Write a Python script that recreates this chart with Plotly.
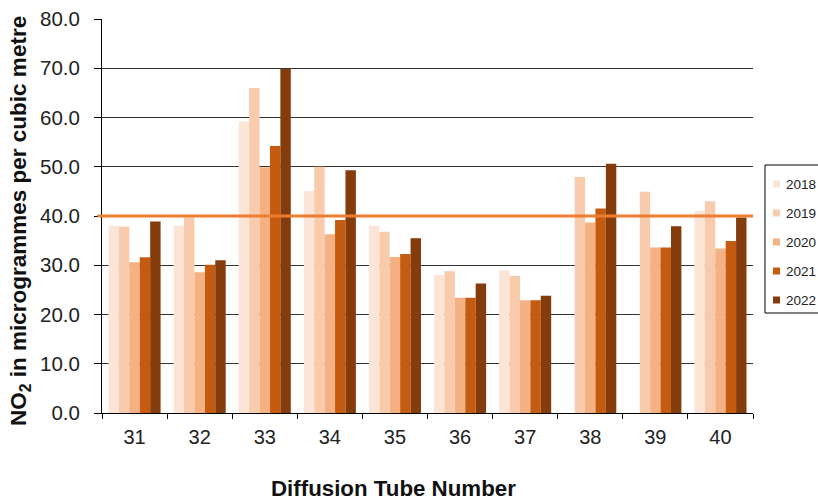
import plotly.graph_objects as go

tubes = ["31", "32", "33", "34", "35", "36", "37", "38", "39", "40"]
years = ["2018", "2019", "2020", "2021", "2022"]
v2018 = [38.0, 38.0, 59.2, 45.1, 38.0, 28.0, 29.0, None, None, 41.0]
v2019 = [37.8, 39.7, 66.0, 50.0, 36.8, 28.8, 27.8, 47.9, 44.9, 43.0]
v2020 = [30.6, 28.6, 49.9, 36.3, 31.7, 23.4, 22.9, 38.7, 33.6, 33.4]
v2021 = [31.6, 30.1, 54.2, 39.2, 32.3, 23.4, 22.9, 41.5, 33.6, 34.9]
v2022 = [38.9, 31.0, 69.9, 49.3, 35.5, 26.3, 23.8, 50.6, 37.9, 39.7]
series = [v2018, v2019, v2020, v2021, v2022]
colors = ["#FBE5D6", "#F8CBAD", "#F4B183", "#C55A11", "#843C0C"]
limit_value = 40.0
x_title = "Diffusion Tube Number"
y_title = "NO<sub>2</sub> in microgrammes per cubic metre"

# plot area geometry (pixels) used to place legend box and titles outside the axes
W, H = 818, 501
L, R, T, B = 102, 65, 19, 88
pw, ph = W - L - R, H - T - B


def px_x(p):
    return (p - L) / pw


def px_y(p):
    return (H - B - p) / ph


fig = go.Figure()
for yr, vals, col in zip(years, series, colors):
    fig.add_trace(go.Bar(x=tubes, y=vals, name=yr, marker_color=col,
                         marker_line_width=0, showlegend=False))

fig.add_shape(type="line", xref="paper", yref="y", x0=-0.007, x1=1.0,
              y0=limit_value, y1=limit_value,
              line=dict(color="#ED7D31", width=3), layer="above")

font = "Liberation Sans, Arial, sans-serif"

# legend box (small swatches, box running off the right edge as in the reference)
fig.add_shape(type="rect", xref="paper", yref="paper",
              x0=px_x(765), x1=px_x(840), y0=px_y(313), y1=px_y(165),
              line=dict(color="#000000", width=1), fillcolor="white")
for i, (yr, col) in enumerate(zip(years, colors)):
    cy = 184 + i * 29
    fig.add_shape(type="rect", xref="paper", yref="paper",
                  x0=px_x(773), x1=px_x(780), y0=px_y(cy + 3.5), y1=px_y(cy - 3.5),
                  line=dict(width=0), fillcolor=col)
    fig.add_annotation(xref="paper", yref="paper", x=px_x(784), y=px_y(cy),
                       xanchor="left", yanchor="middle", text=yr, showarrow=False,
                       font=dict(family=font, size=13.5, color="#222222"))

# axis titles (x title centred on the chart rather than the axes, as in the reference)
fig.add_annotation(xref="paper", yref="paper", x=px_x(393), y=px_y(489),
                   xanchor="center", yanchor="middle", showarrow=False,
                   text="<b>" + x_title + "</b>",
                   font=dict(family=font, size=22.3, color="#111111"))
fig.add_annotation(xref="paper", yref="paper", x=px_x(20), y=px_y(221),
                   xanchor="center", yanchor="middle", showarrow=False, textangle=-90,
                   text="<b>" + y_title + "</b>",
                   font=dict(family=font, size=22.5, color="#111111"))

fig.update_layout(
    width=W, height=H,
    margin=dict(l=L, r=R, t=T, b=B, autoexpand=False),
    paper_bgcolor="white", plot_bgcolor="white",
    barmode="group", bargap=0.2, bargroupgap=0,
    font=dict(family=font, size=19, color="#222222"),
    showlegend=False,
    xaxis=dict(
        showline=True, linecolor="#000000", linewidth=1,
        ticks="outside", ticklen=5, tickcolor="#000000",
        tickson="boundaries", showgrid=False,
        tickfont=dict(size=20, color="#222222"),
        ticklabelstandoff=6,
    ),
    yaxis=dict(
        range=[0, 80], dtick=10, tickformat=".1f",
        showline=True, linecolor="#000000", linewidth=1,
        ticks="outside", ticklen=7, tickcolor="#000000",
        showgrid=True, gridcolor="#333333", gridwidth=1,
        zeroline=False,
        tickfont=dict(size=20.5, color="#222222"),
        ticklabelstandoff=10,
    ),
)

fig.write_html("out.html")
